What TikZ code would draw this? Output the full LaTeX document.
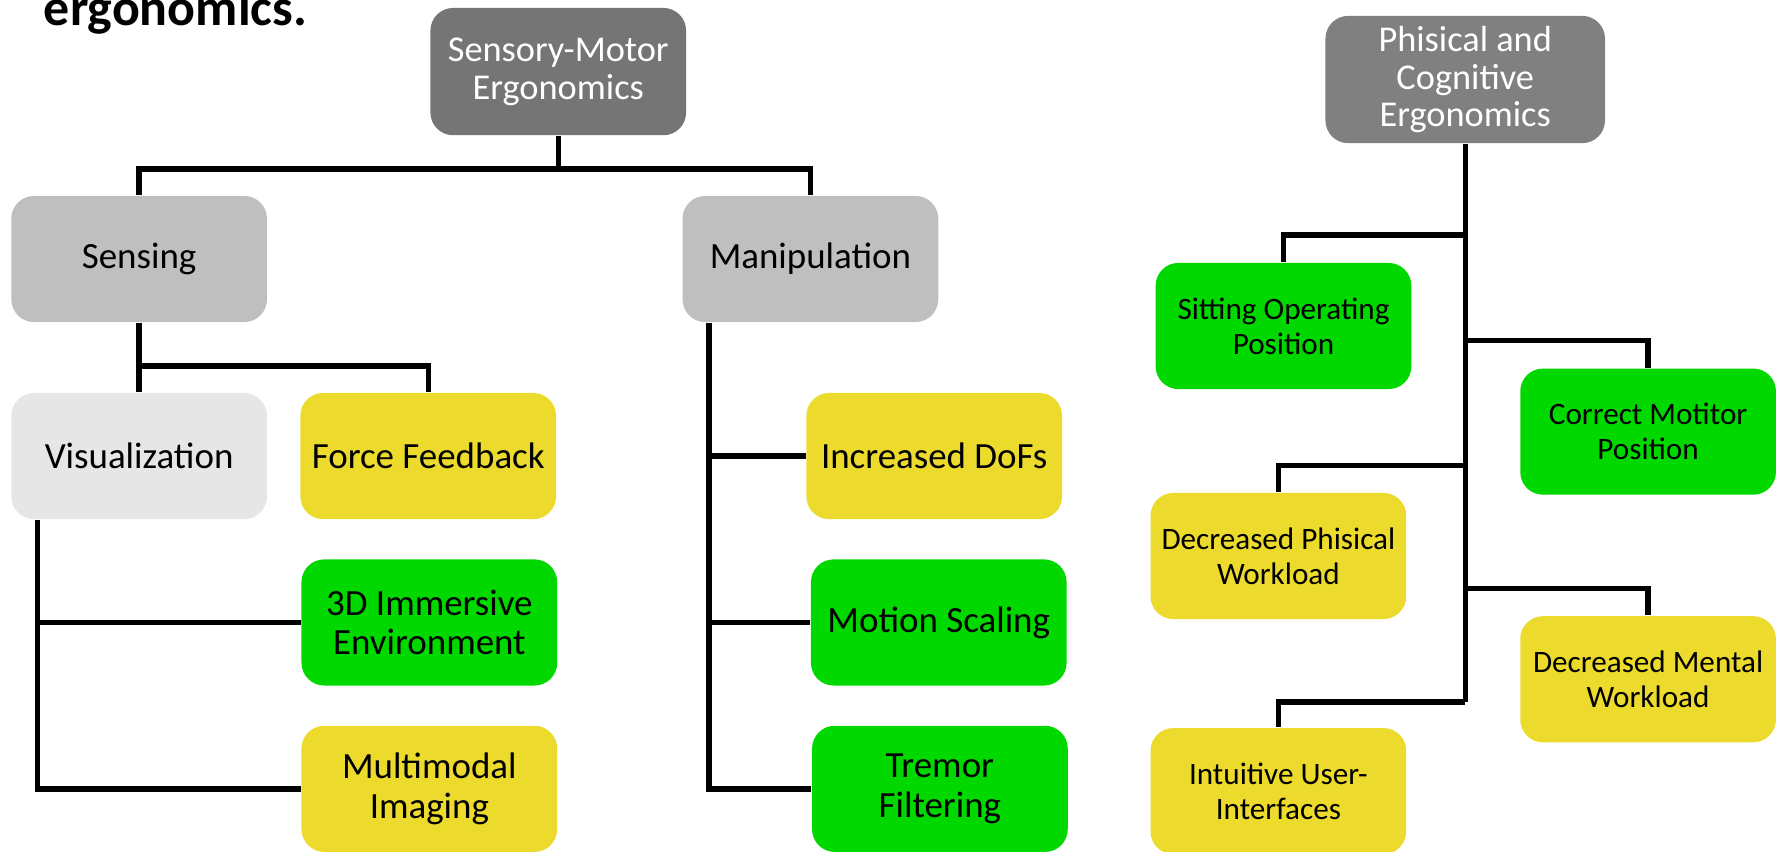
\documentclass[tikz,border=0pt]{standalone}
\usepackage{fontspec}
\setmainfont{Carlito}
\usepackage{tikz}
\usetikzlibrary{positioning,calc}

\definecolor{headgray}{RGB}{117,117,117}
\definecolor{headgrayb}{RGB}{128,128,128}
\definecolor{subgray}{RGB}{191,191,191}
\definecolor{palegray}{RGB}{230,230,230}
\definecolor{ergyellow}{RGB}{236,219,44}
\definecolor{erggreen}{RGB}{0,216,0}

\begin{document}
\begin{tikzpicture}[x=0.01cm, y=-0.01cm,
  box/.style={rounded corners=0.2cm, minimum width=2.25cm, minimum height=1.11cm,
    align=center, inner sep=0pt, font=\fontsize{9.25}{9.8}\selectfont},
  smallbox/.style={box, font=\fontsize{7.8}{8.8}\selectfont},
  head/.style={box, text=white, minimum height=1.12cm, font=\fontsize{9.1}{9.4}\selectfont},
  link/.style={draw=black, line width=1.35pt}]

    \useasboundingbox (0,0) rectangle (1568,750);

    \node[anchor=base west, inner sep=0pt, font=\bfseries\fontsize{13}{15}\selectfont] (capt) at (38,22.5) {ergonomics.};

    % left tree
    \node[head, fill=headgray] (smerg) at (491.5,63) {Sensory-Motor\\Ergonomics};
    \node[box, fill=subgray] (sens) at (122.5,228) {Sensing};
    \node[box, fill=subgray] (manip) at (713.5,228) {Manipulation};

    \node[box, fill=palegray] (visu) at (122.5,401.5) {Visualization};
    \node[box, fill=ergyellow] (force) at (377,401.5) {Force Feedback};
    \node[box, fill=erggreen] (immer) at (378,548) {3D Immersive\\Environment};
    \node[box, fill=ergyellow] (multi) at (378,694.5) {Multimodal\\Imaging};

    \node[box, fill=ergyellow] (dofs) at (822.5,401.5) {Increased DoFs};
    \node[box, fill=erggreen] (motion) at (826.5,548) {Motion Scaling};
    \node[box, fill=erggreen] (tremor) at (827.5,694.5) {Tremor\\Filtering};

    \draw[link] (smerg.south) -- ++(0,31);
    \draw[link] (sens.north) -- ++(0,-23) -| (manip.north);
    \draw[link] (sens.south) -- (visu.north);
    \draw[link] (sens.south) ++(0,38) -| (force.north);

    \draw[link] ([xshift=0.24cm]visu.south west) |- (immer.west);
    \draw[link] ([xshift=0.24cm]visu.south west) |- (multi.west);

    \draw[link] ([xshift=0.24cm]manip.south west) |- (dofs.west);
    \draw[link] ([xshift=0.24cm]manip.south west) |- (motion.west);
    \draw[link] ([xshift=0.24cm]manip.south west) |- (tremor.west);

    % right tree
    \node[head, fill=headgrayb, minimum width=2.46cm] (pcerg) at (1290,70) {Phisical and\\Cognitive\\Ergonomics};
    \node[smallbox, fill=erggreen] (sitting) at (1130,287) {Sitting Operating\\Position};
    \node[smallbox, fill=erggreen] (motitor) at (1451,380) {Correct Motitor\\Position};
    \node[smallbox, fill=ergyellow] (physwl) at (1125.5,489.5) {Decreased Phisical\\Workload};
    \node[smallbox, fill=ergyellow] (mentwl) at (1451,598) {Decreased Mental\\Workload};
    \node[smallbox, fill=ergyellow] (intuit) at (1125.5,696.5) {Intuitive User-\\Interfaces};

    \draw[link] (pcerg.south) -- (pcerg.south |- 0,618);
    \draw[link] (pcerg.south |- 0,207) -| (sitting.north);
    \draw[link] (pcerg.south |- 0,300) -| (motitor.north);
    \draw[link] (pcerg.south |- 0,410) -| (physwl.north);
    \draw[link] (pcerg.south |- 0,518) -| (mentwl.north);
    \draw[link] (pcerg.south |- 0,618) -| (intuit.north);

\end{tikzpicture}
\end{document}
